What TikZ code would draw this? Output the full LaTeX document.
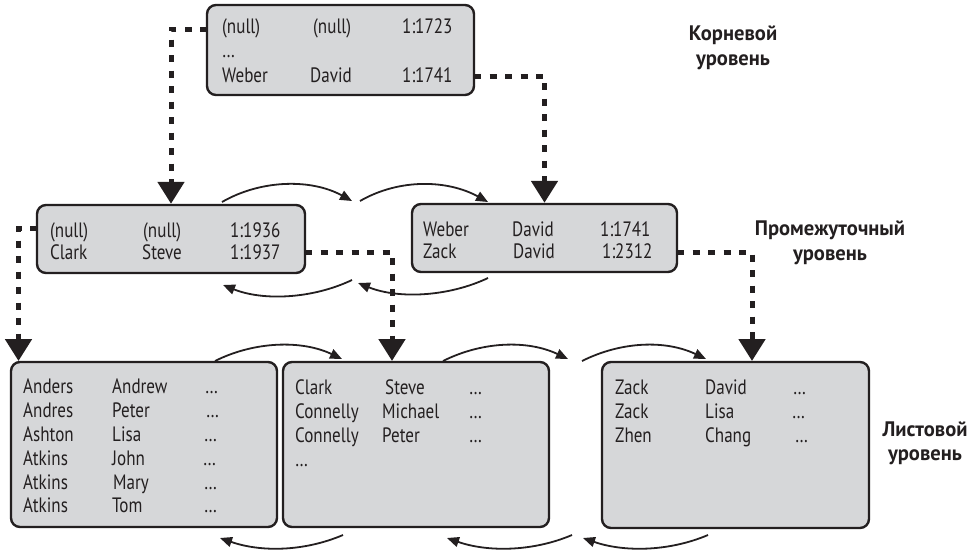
\documentclass[tikz,border=0pt]{standalone}
\usepackage{fontspec}
\setmainfont{PT Sans}[FakeStretch=0.82]
\newfontfamily\lblfont{PT Sans}[FakeStretch=0.98]
\usetikzlibrary{arrows.meta}
\definecolor{boxfill}{RGB}{214,215,217}
\definecolor{ink}{RGB}{35,31,32}
\begin{document}
\begin{tikzpicture}[x=1pt,y=-1pt,
  box/.style={draw=ink,fill=boxfill,line width=2.4pt,rounded corners=9pt,inner sep=0pt},
  tx/.style={anchor=base west,inner sep=0pt,text=ink,font=\fontsize{20.8}{22}\selectfont},
  lbl/.style={anchor=base,inner sep=0pt,text=ink,font=\lblfont\bfseries\fontsize{21}{22}\selectfont},
  dotarrow/.style={draw=ink,line width=5pt,dash pattern=on 7pt off 8.5pt,-{Triangle[length=22pt,width=26pt]}},
  arc/.style={draw=ink,line width=1.8pt,-{Triangle[length=12pt,width=10pt]}}]
\useasboundingbox (0,0) rectangle (975,554);

% boxes
\node[box,minimum width=267pt,minimum height=90pt] (root) at (340.5,50) {};
\node[box,minimum width=268pt,minimum height=68pt] (li) at (171,239) {};
\node[box,minimum width=265pt,minimum height=68pt] (ri) at (544.5,238) {};
\node[box,minimum width=266pt,minimum height=165pt] (l1) at (144,444.5) {};
\node[box,minimum width=266pt,minimum height=165pt] (l2) at (416,444.5) {};
\node[box,minimum width=267pt,minimum height=166pt] (l3) at (735.5,445) {};

% root text
\node[tx] (r11) at (222,33) {(null)};
\node[tx] (r12) at (313,33) {(null)};
\node[tx] (r13) at (402,33) {1:1723};
\node[tx] (r21) at (222,57) {…};
\node[tx] (r31) at (222,82) {Weber};
\node[tx] (r32) at (310,82) {David};
\node[tx] (r33) at (402,82) {1:1741};

% left intermediate text
\node[tx] (li11) at (50,237) {(null)};
\node[tx] (li12) at (143,237) {(null)};
\node[tx] (li13) at (230,237) {1:1936};
\node[tx] (li21) at (50,259) {Clark};
\node[tx] (li22) at (142,259) {Steve};
\node[tx] (li23) at (230,259) {1:1937};

% right intermediate text
\node[tx] (ri11) at (423,236) {Weber};
\node[tx] (ri12) at (512,236) {David};
\node[tx] (ri13) at (600,236) {1:1741};
\node[tx] (ri21) at (423,258) {Zack};
\node[tx] (ri22) at (513,258) {David};
\node[tx] (ri23) at (602,258) {1:2312};

% leaf 1
\node[tx] (a11) at (23,393) {Anders};  \node[tx] (a12) at (112,393) {Andrew}; \node[tx] (a13) at (205,393) {…};
\node[tx] (a21) at (23,417) {Andres};  \node[tx] (a22) at (112,417) {Peter};  \node[tx] (a23) at (206,417) {…};
\node[tx] (a31) at (23,441) {Ashton};  \node[tx] (a32) at (112,441) {Lisa};   \node[tx] (a33) at (204,441) {…};
\node[tx] (a41) at (23,465) {Atkins};  \node[tx] (a42) at (112,465) {John};   \node[tx] (a43) at (203,465) {…};
\node[tx] (a51) at (23,489) {Atkins};  \node[tx] (a52) at (113,489) {Mary};   \node[tx] (a53) at (204,489) {…};
\node[tx] (a61) at (23,512) {Atkins};  \node[tx] (a62) at (112,512) {Tom};    \node[tx] (a63) at (204,512) {…};

% leaf 2
\node[tx] (b11) at (295,394) {Clark};    \node[tx] (b12) at (385,394) {Steve};   \node[tx] (b13) at (469,394) {…};
\node[tx] (b21) at (295,418) {Connelly}; \node[tx] (b22) at (382,418) {Michael}; \node[tx] (b23) at (469,418) {…};
\node[tx] (b31) at (295,442) {Connelly}; \node[tx] (b32) at (382,442) {Peter};   \node[tx] (b33) at (469,442) {…};
\node[tx] (b41) at (295,466) {…};

% leaf 3
\node[tx] (c11) at (615,394) {Zack}; \node[tx] (c12) at (705,394) {David}; \node[tx] (c13) at (793,394) {…};
\node[tx] (c21) at (615,418) {Zack}; \node[tx] (c22) at (705,418) {Lisa};  \node[tx] (c23) at (792,418) {…};
\node[tx] (c31) at (615,442) {Zhen}; \node[tx] (c32) at (705,442) {Chang}; \node[tx] (c33) at (795,442) {…};

% level labels
\node[lbl] (k1) at (733,40) {Корневой};
\node[lbl] (k2) at (733,65) {уровень};
\node[lbl] (p1) at (830,235) {Промежуточный};
\node[lbl] (p2) at (830,260) {уровень};
\node[lbl] (s1) at (925,436) {Листовой};
\node[lbl] (s2) at (925,460) {уровень};

% dotted pointers
\coordinate (rA) at (207,29);
\coordinate (rB) at (474,76);
\coordinate (liA) at (37,228);
\coordinate (liB) at (305,252);
\coordinate (riB) at (677,252);
\coordinate (l1in) at (18.5,361);
\coordinate (l2in) at (392,361);
\coordinate (l3in) at (752,361);
\draw[dotarrow] (rA) -| (li.north);
\draw[dotarrow] (rB) -| (ri.north);
\draw[dotarrow] (liA) -| (l1in);
\draw[dotarrow] (liB) -| (l2in);
\draw[dotarrow] (riB) -| (l3in);

% sibling arcs, intermediate level
\coordinate (i1) at (222,202); \coordinate (i2) at (352,201);
\coordinate (i3) at (360,201); \coordinate (i4) at (488,202);
\coordinate (i5) at (352,280); \coordinate (i6) at (223,285);
\coordinate (i7) at (488,278); \coordinate (i8) at (358,283);
\draw[arc] (i1) .. controls +(40,-23) and +(-40,-22) .. (i2);
\draw[arc] (i3) .. controls +(40,-23) and +(-40,-22) .. (i4);
\draw[arc] (i5) .. controls +(-40,19) and +(40,16) .. (i6);
\draw[arc] (i7) .. controls +(-40,19) and +(40,16) .. (i8);

% sibling arcs, leaf level
\coordinate (e1) at (215,361); \coordinate (e2) at (342,359);
\coordinate (e3) at (443,361); \coordinate (e4) at (568,359);
\coordinate (e5) at (582,361); \coordinate (e6) at (706,359);
\coordinate (f1) at (343,535); \coordinate (f2) at (220,538);
\coordinate (f3) at (572,535); \coordinate (f4) at (447,538);
\coordinate (f5) at (708,535); \coordinate (f6) at (583,538);
\draw[arc] (e1) .. controls +(40,-20) and +(-40,-19) .. (e2);
\draw[arc] (e3) .. controls +(40,-20) and +(-40,-19) .. (e4);
\draw[arc] (e5) .. controls +(40,-20) and +(-40,-19) .. (e6);
\draw[arc] (f1) .. controls +(-40,17) and +(40,14) .. (f2);
\draw[arc] (f3) .. controls +(-40,17) and +(40,14) .. (f4);
\draw[arc] (f5) .. controls +(-40,17) and +(40,14) .. (f6);
\end{tikzpicture}
\end{document}
